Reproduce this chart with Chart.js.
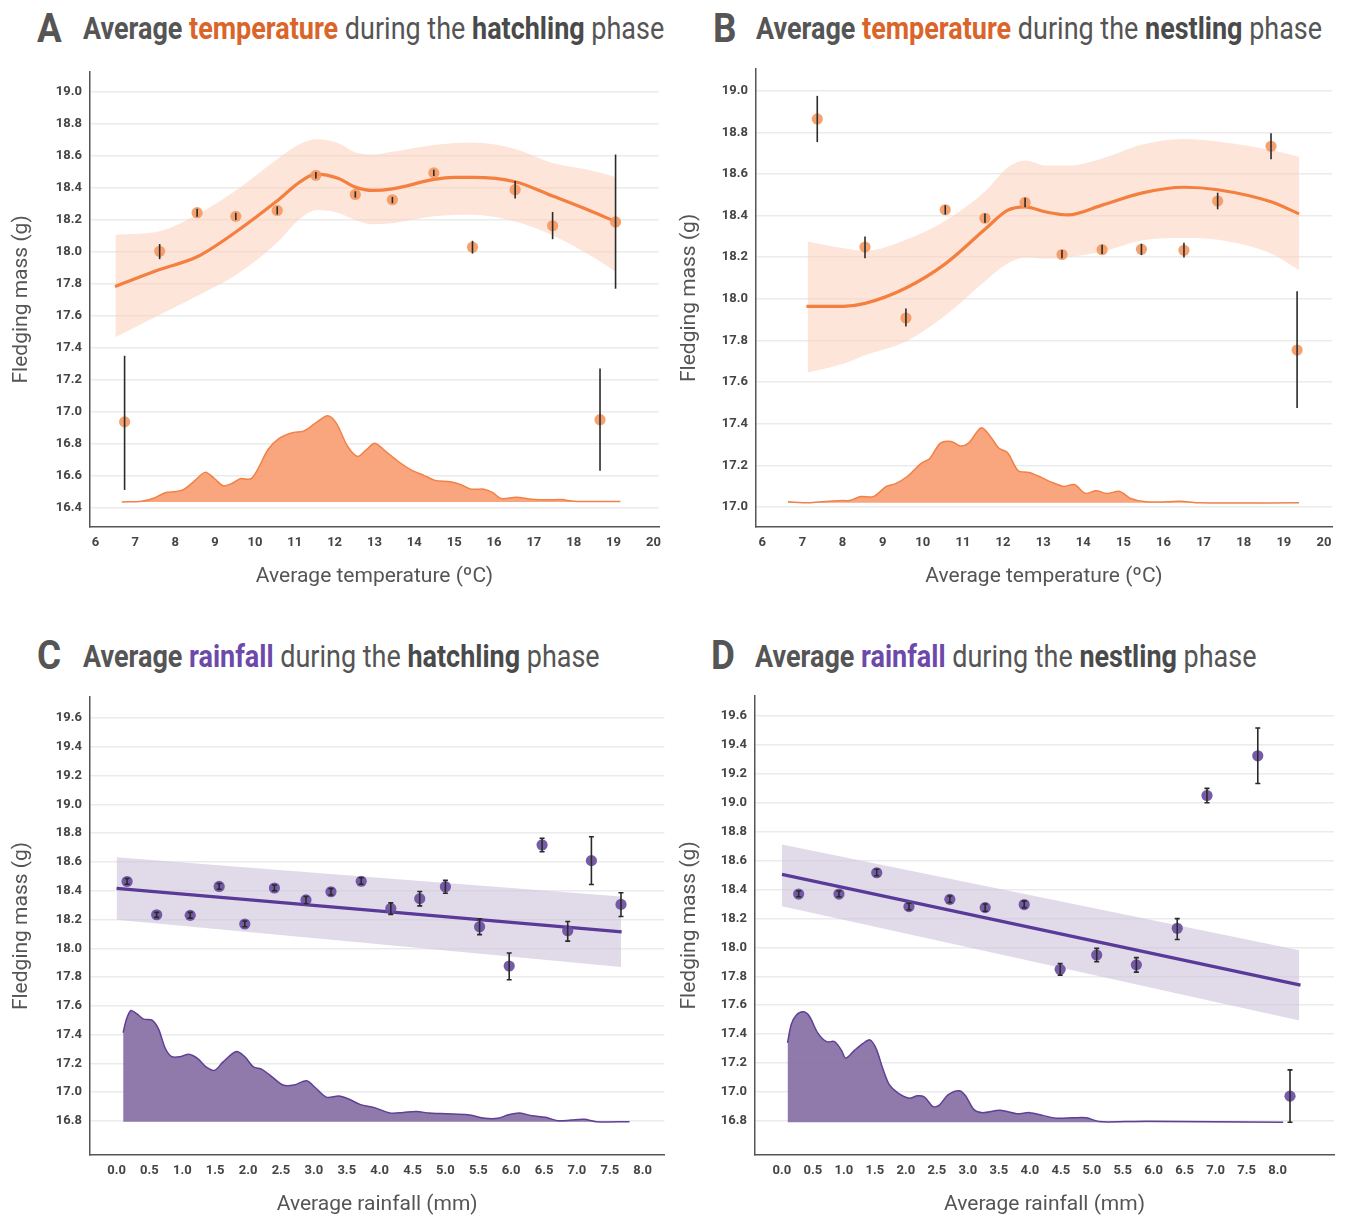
<!DOCTYPE html>
<html><head><meta charset="utf-8">
<script src="https://cdn.jsdelivr.net/npm/chart.js@4"></script>
<style>
body{margin:0;background:#fff;width:1346px;height:1218px;position:relative;overflow:hidden;font-family:Roboto,sans-serif}
.cv{position:absolute}
.ttl{position:absolute;white-space:nowrap;color:#555;font-size:31px;line-height:1;transform-origin:0 50%;transform:scaleX(0.87)}
.letter{position:absolute;font-weight:700;font-size:40px;color:#555;line-height:1;transform-origin:0 50%;transform:scaleX(0.92)}
b{font-weight:700}
.or{color:#d9652b}.pu{color:#6d4aaa}.dk{color:#4a4a4a}
</style></head>
<body>
<div class="letter" style="left:37px;top:9px">A</div>
<div class="ttl" style="left:83px;top:13px"><b>Average </b><b class="or">temperature</b> during the <b class="dk">hatchling</b> phase</div>
<div class="letter" style="left:713px;top:9px">B</div>
<div class="ttl" style="left:756px;top:13px"><b>Average </b><b class="or">temperature</b> during the <b class="dk">nestling</b> phase</div>
<div class="letter" style="left:37px;top:636px">C</div>
<div class="ttl" style="left:83px;top:641px"><b>Average </b><b class="pu">rainfall</b> during the <b class="dk">hatchling</b> phase</div>
<div class="letter" style="left:711px;top:636px">D</div>
<div class="ttl" style="left:755px;top:641px"><b>Average </b><b class="pu">rainfall</b> during the <b class="dk">nestling</b> phase</div>

<canvas id="cA" class="cv" style="left:0;top:56px" width="670" height="549"></canvas>
<canvas id="cB" class="cv" style="left:670px;top:53px" width="676" height="552"></canvas>
<canvas id="cC" class="cv" style="left:0;top:680px" width="670" height="538"></canvas>
<canvas id="cD" class="cv" style="left:670px;top:680px" width="676" height="538"></canvas>

<script>
// ---------- tick labels ----------
const tempTicks = [6,7,8,9,10,11,12,13,14,15,16,17,18,19,20];
const rainTicks = [0.0,0.5,1.0,1.5,2.0,2.5,3.0,3.5,4.0,4.5,5.0,5.5,6.0,6.5,7.0,7.5,8.0];
const aYTicks = [16.4,16.6,16.8,17.0,17.2,17.4,17.6,17.8,18.0,18.2,18.4,18.6,18.8,19.0];
const bYTicks = [17.0,17.2,17.4,17.6,17.8,18.0,18.2,18.4,18.6,18.8,19.0];
const cdYTicks = [16.8,17.0,17.2,17.4,17.6,17.8,18.0,18.2,18.4,18.6,18.8,19.0,19.2,19.4,19.6];

// ---------- Panel A: temperature, hatchling ----------
const aPtX  = [6.73,7.61,8.55,9.52,10.56,11.53,12.52,13.45,14.49,15.46,16.53,17.47,18.66,19.05];
const aPtY  = [16.936,18.004,18.246,18.223,18.26,18.48,18.36,18.327,18.495,18.03,18.39,18.164,16.95,18.188];
const aErrLo= [16.51,17.955,18.22,18.20,18.235,18.46,18.34,18.305,18.475,17.99,18.335,18.08,16.63,17.77];
const aErrHi= [17.35,18.05,18.27,18.245,18.285,18.50,18.38,18.345,18.515,18.07,18.445,18.25,17.27,18.61];
const aFitX = [6.49,7.61,8.55,9.52,10.56,11.14,11.53,12.1,12.52,12.96,13.45,14.49,15.0,15.46,16.53,17.47,18.44,19.05];
const aFitY = [17.784,17.89,17.97,18.125,18.32,18.44,18.487,18.46,18.406,18.385,18.395,18.454,18.467,18.467,18.44,18.35,18.255,18.19];
const aBandX  = [6.5,7.61,8.55,9.52,10.56,11.14,11.57,12.1,12.52,12.96,13.45,14.49,15.46,16.53,17.47,18.44,19.05];
const aBandHi = [18.108,18.13,18.235,18.385,18.58,18.677,18.705,18.68,18.622,18.61,18.627,18.67,18.685,18.645,18.557,18.51,18.47];
const aBandLo = [17.466,17.607,17.725,17.855,18.06,18.21,18.262,18.244,18.2,18.173,18.18,18.223,18.233,18.19,18.104,17.974,17.877];
const aDensBase = 16.435;
const aDensX = [6.66,7.16,7.48,7.75,8.02,8.23,8.5,8.75,8.99,9.2,9.42,9.63,9.9,10.06,10.33,10.6,10.92,11.24,11.56,11.83,12.05,12.32,12.58,12.8,13.01,13.28,13.6,13.93,14.25,14.52,14.9,15.17,15.43,15.75,15.97,16.18,16.56,16.94,17.37,17.69,18.01,18.66,19.17];
const aDensY = [16.435,16.439,16.46,16.493,16.50,16.515,16.57,16.62,16.58,16.536,16.55,16.58,16.58,16.634,16.763,16.832,16.867,16.88,16.936,16.975,16.925,16.785,16.72,16.763,16.802,16.752,16.688,16.634,16.6,16.57,16.562,16.543,16.515,16.515,16.493,16.456,16.465,16.452,16.448,16.45,16.439,16.437,16.437];

// ---------- Panel B: temperature, nestling ----------
const bPtX  = [7.37,8.56,9.58,10.56,11.55,12.55,13.47,14.47,15.45,16.51,17.35,18.68,19.33];
const bPtY  = [18.864,18.249,17.908,18.428,18.387,18.463,18.213,18.236,18.238,18.233,18.47,18.733,17.754];
const bErrLo= [18.753,18.195,17.867,18.405,18.365,18.44,18.195,18.215,18.21,18.198,18.43,18.67,17.476];
const bErrHi= [18.975,18.30,17.953,18.45,18.41,18.485,18.235,18.26,18.265,18.27,18.51,18.795,18.036];
const bFitX = [7.1,8.02,8.56,9.58,10.56,11.55,12.11,12.55,13.08,13.62,14.47,15.45,16.51,17.35,18.68,19.38];
const bFitY = [17.964,17.964,17.978,18.052,18.168,18.334,18.425,18.442,18.417,18.403,18.45,18.508,18.536,18.524,18.466,18.408];
const bBandX  = [7.13,8.02,8.56,9.58,10.56,11.55,12.11,12.55,13.08,13.62,14.47,15.45,16.51,17.35,18.68,19.38];
const bBandHi = [18.276,18.243,18.231,18.284,18.375,18.516,18.63,18.665,18.64,18.64,18.674,18.74,18.768,18.756,18.715,18.682];
const bBandLo = [17.646,17.688,17.729,17.795,17.92,18.085,18.168,18.198,18.193,18.201,18.226,18.28,18.292,18.284,18.218,18.138];
const bDensBase = 17.02;
const bDensX = [6.64,7.15,7.58,8.02,8.18,8.45,8.77,9.09,9.31,9.63,9.96,10.17,10.44,10.71,10.93,11.14,11.46,11.68,11.9,12.11,12.38,12.65,12.97,13.19,13.51,13.78,14.05,14.32,14.59,14.91,15.18,15.56,16.1,16.42,16.85,19.38];
const bDensY = [17.025,17.02,17.027,17.031,17.031,17.05,17.05,17.099,17.111,17.149,17.21,17.232,17.307,17.315,17.293,17.307,17.381,17.34,17.282,17.262,17.174,17.166,17.141,17.121,17.099,17.108,17.066,17.078,17.065,17.075,17.041,17.025,17.025,17.028,17.02,17.02];

// ---------- Panel C: rainfall, hatchling ----------
const cPtX  = [0.16,0.61,1.12,1.56,1.95,2.40,2.88,3.26,3.72,4.17,4.61,5.00,5.52,5.97,6.47,6.86,7.22,7.67];
const cPtY  = [18.464,18.233,18.229,18.43,18.169,18.419,18.336,18.393,18.466,18.276,18.345,18.428,18.15,17.877,18.718,18.122,18.609,18.305];
const cErrLo= [18.445,18.215,18.21,18.41,18.15,18.40,18.31,18.37,18.445,18.236,18.295,18.383,18.095,17.782,18.671,18.05,18.443,18.221];
const cErrHi= [18.485,18.25,18.25,18.45,18.19,18.44,18.36,18.415,18.49,18.316,18.395,18.473,18.205,17.967,18.765,18.186,18.775,18.386];
const cFitX = [0.0,7.68];
const cFitY = [18.416,18.114];
const cBandX  = [0.0,7.67];
const cBandHi = [18.633,18.36];
const cBandLo = [18.198,17.87];
const cDensBase = 16.795;
const cDensX = [0.10,0.15,0.22,0.31,0.41,0.54,0.64,0.74,0.84,0.97,1.10,1.23,1.36,1.49,1.62,1.82,1.95,2.08,2.21,2.34,2.53,2.70,2.89,3.02,3.19,3.38,3.51,3.71,3.91,4.17,4.36,4.56,4.76,5.02,5.34,5.60,5.80,5.96,6.13,6.32,6.52,6.71,6.91,7.11,7.30,7.80];
const cDensY = [17.413,17.508,17.568,17.544,17.508,17.501,17.437,17.306,17.247,17.247,17.264,17.235,17.176,17.152,17.211,17.283,17.247,17.176,17.159,17.116,17.05,17.05,17.08,17.033,16.966,16.974,16.957,16.914,16.895,16.855,16.86,16.866,16.855,16.85,16.843,16.819,16.819,16.843,16.855,16.836,16.826,16.802,16.807,16.812,16.795,16.795];

// ---------- Panel D: rainfall, nestling ----------
const dPtX  = [0.27,0.92,1.53,2.05,2.71,3.28,3.91,4.49,5.08,5.72,6.38,6.86,7.68,8.20];
const dPtY  = [18.369,18.369,18.516,18.282,18.332,18.275,18.296,17.848,17.947,17.879,18.132,19.05,19.325,16.971];
const dErrLo= [18.35,18.35,18.495,18.26,18.31,18.25,18.275,17.808,17.901,17.829,18.054,19.0,19.133,16.79];
const dErrHi= [18.39,18.39,18.54,18.305,18.355,18.30,18.32,17.888,17.993,17.929,18.199,19.1,19.517,17.153];
const dFitX = [0.0,8.37];
const dFitY = [18.505,17.739];
const dBandX  = [0.0,8.35];
const dBandHi = [18.711,17.98];
const dBandLo = [18.284,17.495];
const dDensBase = 16.79;
const dDensX = [0.09,0.15,0.23,0.34,0.44,0.58,0.72,0.85,0.96,1.03,1.17,1.31,1.42,1.52,1.63,1.73,1.87,2.05,2.19,2.30,2.44,2.54,2.68,2.86,2.96,3.10,3.24,3.52,3.79,4.00,4.21,4.42,4.70,4.91,5.12,5.54,5.89,8.09];
const dDensY = [17.34,17.466,17.53,17.554,17.525,17.407,17.348,17.348,17.288,17.234,17.288,17.336,17.36,17.3,17.158,17.052,16.993,16.957,16.974,16.965,16.898,16.909,16.98,17.009,16.975,16.878,16.857,16.873,16.85,16.857,16.838,16.819,16.821,16.821,16.795,16.795,16.797,16.79];

// ---------- helpers ----------
const zip = (xs, ys) => xs.map((x, i) => ({x, y: ys[i]}));

const errorBars = {
  id: 'errorBars',
  afterDatasetsDraw(chart) {
    const ctx = chart.ctx, xs = chart.scales.x, ys = chart.scales.y;
    chart.data.datasets.forEach(ds => {
      if (!ds.errLo) return;
      ctx.save();
      ctx.strokeStyle = '#2a2a2a';
      ctx.lineWidth = 1.6;
      ds.data.forEach((p, i) => {
        const px = xs.getPixelForValue(p.x);
        const y1 = ys.getPixelForValue(ds.errLo[i]);
        const y2 = ys.getPixelForValue(ds.errHi[i]);
        ctx.beginPath();
        ctx.moveTo(px, y1); ctx.lineTo(px, y2);
        if (ds.cap) {
          ctx.moveTo(px - ds.cap, y1); ctx.lineTo(px + ds.cap, y1);
          ctx.moveTo(px - ds.cap, y2); ctx.lineTo(px + ds.cap, y2);
        }
        ctx.stroke();
      });
      ctx.restore();
    });
  }
};

const PAL = {
  orange: {pt:'rgba(244,152,98,0.9)', line:'#f47f3f', band:'rgba(251,208,186,0.55)', dens:'rgba(249,160,118,0.95)', densLine:'#f28146'},
  purple: {pt:'rgba(106,78,160,0.92)', line:'#5a3a98', band:'rgba(205,195,218,0.6)', dens:'rgba(138,114,166,0.95)', densLine:'#5e4095'}
};

function makePanel(id, c) {
  const pal = PAL[c.pal];
  const fmtX = c.xDec ? (v => Number(v).toFixed(1)) : (v => String(v));
  new Chart(document.getElementById(id), {
    type: 'scatter',
    data: {
      datasets: [
        {label:'points', data: zip(c.ptX, c.ptY), errLo: c.errLo, errHi: c.errHi, cap: c.cap,
         showLine:false, pointRadius:5.6, pointHoverRadius:5.6, backgroundColor: pal.pt, borderWidth:0, order:0},
        {label:'fit', data: zip(c.fitX, c.fitY), showLine:true, borderColor: pal.line, borderWidth:3.2,
         pointRadius:0, cubicInterpolationMode:'monotone', fill:false, order:1},
        {label:'density', data: zip(c.densX, c.densY), showLine:true, borderColor: pal.densLine, borderWidth:1.5,
         backgroundColor: pal.dens, pointRadius:0, tension:0.3, fill:{value:c.densBase}, order:2},
        {label:'band upper', data: zip(c.bandX, c.bandHi), showLine:true, borderWidth:0, borderColor:'rgba(0,0,0,0)',
         backgroundColor: pal.band, pointRadius:0, cubicInterpolationMode:'monotone', fill:'+1', order:3},
        {label:'band lower', data: zip(c.bandX, c.bandLo), showLine:true, borderWidth:0, borderColor:'rgba(0,0,0,0)',
         pointRadius:0, cubicInterpolationMode:'monotone', fill:false, order:4}
      ]
    },
    options: {
      responsive:false, animation:false, events:[],
      layout:{padding:{top:c.padTop, right:c.padRight, left:0, bottom:0}},
      plugins:{legend:{display:false}, tooltip:{enabled:false}},
      scales:{
        x:{type:'linear', min:c.xMin, max:c.xMax,
           afterBuildTicks: s => { s.ticks = c.xTicks.map(v => ({value:v})); },
           afterFit: s => { s.height = c.xH; },
           grid:{display:false, drawTicks:false},
           border:{display:true, color:'#555', width:1.5},
           ticks:{padding:c.xTickPad, color:'#454545', font:{family:'Roboto', weight:'bold', size:13}, callback: fmtX, maxRotation:0, autoSkip:false},
           title:{display:true, text:c.xTitle, color:'#555', font:{family:'Roboto', size:21}, padding:{top:0, bottom:c.xTitlePad}}},
        y:{type:'linear', min:c.yMin, max:c.yMax,
           afterBuildTicks: s => { s.ticks = c.yTicks.map(v => ({value:v})); },
           afterFit: s => { s.width = c.yW; },
           grid:{color:'#ebebeb', lineWidth:1.5, drawTicks:false},
           border:{display:true, color:'#555', width:1.5},
           ticks:{padding:8, color:'#454545', font:{family:'Roboto', weight:'bold', size:13}, callback: v => Number(v).toFixed(1), autoSkip:false},
           title:{display:true, text:'Fledging mass (g)', color:'#555', font:{family:'Roboto', size:21}, padding:{top:c.yTitlePad, bottom:0}}}
      }
    },
    plugins:[errorBars]
  });
}

makePanel('cA', {pal:'orange', ptX:aPtX, ptY:aPtY, errLo:aErrLo, errHi:aErrHi, cap:0,
  fitX:aFitX, fitY:aFitY, bandX:aBandX, bandHi:aBandHi, bandLo:aBandLo, densX:aDensX, densY:aDensY, densBase:aDensBase,
  xTicks:tempTicks, yTicks:aYTicks, xMin:5.862, xMax:20.14, yMin:16.278, yMax:19.128,
  padTop:0, padRight:11, yW:90, xH:78, xTickPad:8, xTitlePad:16, yTitlePad:9,
  xTitle:'Average temperature (ºC)', xDec:false});
makePanel('cB', {pal:'orange', ptX:bPtX, ptY:bPtY, errLo:bErrLo, errHi:bErrHi, cap:0,
  fitX:bFitX, fitY:bFitY, bandX:bBandX, bandHi:bBandHi, bandLo:bBandLo, densX:bDensX, densY:bDensY, densBase:bDensBase,
  xTicks:tempTicks, yTicks:bYTicks, xMin:5.843, xMax:20.2, yMin:16.904, yMax:19.105,
  padTop:0, padRight:14, yW:86, xH:78, xTickPad:8, xTitlePad:16, yTitlePad:7,
  xTitle:'Average temperature (ºC)', xDec:false});
makePanel('cC', {pal:'purple', ptX:cPtX, ptY:cPtY, errLo:cErrLo, errHi:cErrHi, cap:2.5,
  fitX:cFitX, fitY:cFitY, bandX:cBandX, bandHi:cBandHi, bandLo:cBandLo, densX:cDensX, densY:cDensY, densBase:cDensBase,
  xTicks:rainTicks, yTicks:cdYTicks, xMin:-0.404, xMax:8.33, yMin:16.564, yMax:19.746,
  padTop:17, padRight:4, yW:90, xH:63, xTickPad:8, xTitlePad:1, yTitlePad:9,
  xTitle:'Average rainfall (mm)', xDec:true});
makePanel('cD', {pal:'purple', ptX:dPtX, ptY:dPtY, errLo:dErrLo, errHi:dErrHi, cap:2.5,
  fitX:dFitX, fitY:dFitY, bandX:dBandX, bandHi:dBandHi, bandLo:dBandLo, densX:dDensX, densY:dDensY, densBase:dDensBase,
  xTicks:rainTicks, yTicks:cdYTicks, xMin:-0.435, xMax:8.91, yMin:16.564, yMax:19.74,
  padTop:15, padRight:12, yW:85, xH:63, xTickPad:8, xTitlePad:1, yTitlePad:7,
  xTitle:'Average rainfall (mm)', xDec:true});
</script>
</body></html>
